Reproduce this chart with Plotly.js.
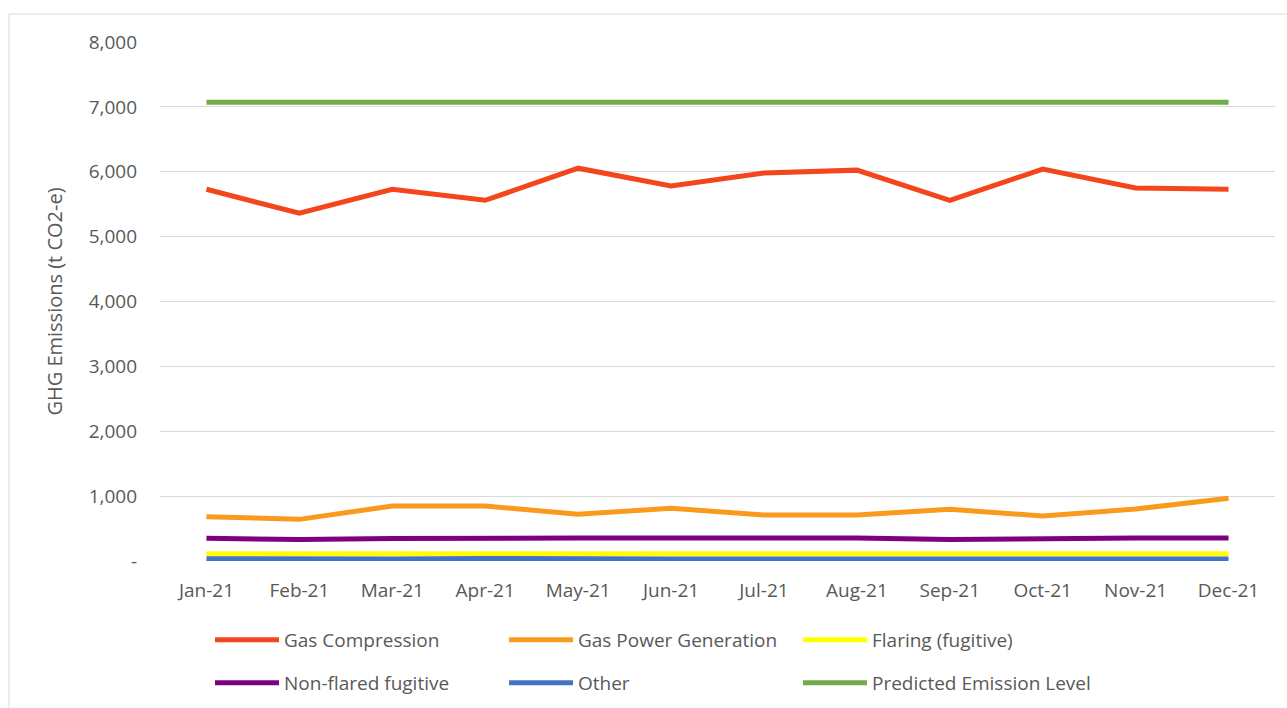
<!DOCTYPE html>
<html>
<head>
<meta charset="utf-8">
<script src="https://cdn.plot.ly/plotly-3.0.1.min.js"></script>
<style>
html,body{margin:0;padding:0;background:#fff;}
#chart{width:1287px;height:708px;}
</style>
</head>
<body>
<div id="chart"></div>
<script>
const months = ["Jan-21","Feb-21","Mar-21","Apr-21","May-21","Jun-21","Jul-21","Aug-21","Sep-21","Oct-21","Nov-21","Dec-21"];
const gasCompression = [5730,5360,5730,5560,6055,5780,5980,6025,5560,6040,5750,5730];
const gasPowerGeneration = [683,642,847,847,720,812,709,709,797,693,800,966];
const flaringFugitive = [110,110,110,110,110,110,110,110,110,110,110,110];
const nonFlaredFugitive = [350,330,345,355,355,355,355,355,330,350,355,355];
const other = [35,30,30,40,30,30,30,30,30,30,30,30];
const predictedEmission = [7070,7070,7070,7070,7070,7070,7070,7070,7070,7070,7070,7070];
const yTickVals = [0,1000,2000,3000,4000,5000,6000,7000,8000];
const yTickText = ["-","1,000","2,000","3,000","4,000","5,000","6,000","7,000","8,000"];

const seriesDefs = [
  {name:"Gas Compression", y:gasCompression, color:"#F4461C", legend:"legend", rank:1},
  {name:"Gas Power Generation", y:gasPowerGeneration, color:"#F99A1C", legend:"legend", rank:2},
  {name:"Flaring (fugitive)", y:flaringFugitive, color:"#FFFF00", legend:"legend", rank:3},
  {name:"Non-flared fugitive", y:nonFlaredFugitive, color:"#7F007F", legend:"legend2", rank:4},
  {name:"Other", y:other, color:"#4472C4", legend:"legend2", rank:5},
  {name:"Predicted Emission Level", y:predictedEmission, color:"#70AD47", legend:"legend2", rank:6}
];
const traces = seriesDefs.map(s => ({
  type:"scatter", mode:"lines", x:months, y:s.y, name:s.name,
  legend:s.legend, legendrank:s.rank,
  line:{color:s.color, width:5}, hoverinfo:"x+y+name"
}));

const fam = "Open Sans, Segoe UI, sans-serif";
const gray = "#595959";
const legendBase = {orientation:"h", xref:"container", yref:"container",
  x:210/1287, xanchor:"left", yanchor:"middle",
  entrywidth:215, entrywidthmode:"pixels", itemwidth:64, traceorder:"normal",
  bgcolor:"rgba(0,0,0,0)", font:{family:fam, size:19, color:gray}};
const layout = {
  width:1287, height:708,
  margin:{l:160, r:12, t:42, b:147, autoexpand:false},
  paper_bgcolor:"#fff", plot_bgcolor:"#fff",
  font:{family:fam, color:gray, size:19},
  showlegend:true,
  legend:Object.assign({}, legendBase, {y:1-640/708}),
  legend2:Object.assign({}, legendBase, {y:1-683/708}),
  xaxis:{type:"category", range:[-0.5,11.5], showgrid:false, zeroline:false, showline:false, ticks:"",
         ticklabelstandoff:16, tickfont:{family:fam, size:19, color:gray}},
  yaxis:{range:[0,8000], tickvals:yTickVals, ticktext:yTickText, showgrid:true,
         gridcolor:"#d9d9d9", gridwidth:1, zeroline:false, showline:false, ticks:"",
         ticklabelstandoff:22,
         tickfont:{family:fam, size:19, color:gray},
         title:{text:"GHG Emissions (t CO2-e)", font:{family:fam, size:20, color:gray}, standoff:20}},
  shapes:[{type:"rect", xref:"paper", yref:"paper", x0:(9-160)/1115, x1:1.2, y0:-0.5, y1:(561-14)/519,
           line:{color:"#d9d9d9", width:1}, fillcolor:"rgba(0,0,0,0)", layer:"below"}]
};
Plotly.newPlot("chart", traces, layout, {displayModeBar:false, staticPlot:true});
</script>
</body>
</html>
